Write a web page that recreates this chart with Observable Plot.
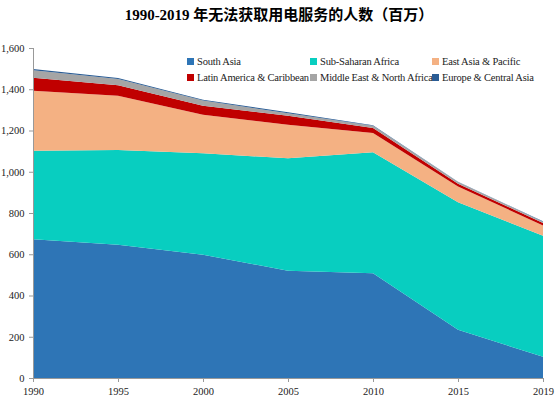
<!DOCTYPE html>
<html>
<head>
<meta charset="utf-8">
<script src="https://cdn.jsdelivr.net/npm/d3@7"></script>
<script src="https://cdn.jsdelivr.net/npm/@observablehq/plot@0.6"></script>
<style>
  body { margin: 0; background: #fff; }
  #wrap { position: relative; width: 558px; height: 402px; }
  #title {
    height: 30px; line-height: 30px; text-align: center;
    font-family: "Liberation Serif", "Times New Roman", Times, "Noto Sans CJK SC", serif;
    font-weight: bold; font-size: 15px; color: #000;
  }
  #legend {
    position: absolute; left: 187px; top: 56px; width: 370px;
    display: grid; grid-template-columns: 123px 122px 125px; row-gap: 5px;
    font-family: "Liberation Serif", "Times New Roman", Times, serif; font-size: 10.5px; color: #222;
  }
  #legend span.item { display: flex; align-items: center; white-space: nowrap; overflow: visible; letter-spacing: -0.2px; }
  #legend span.sw { display: inline-block; flex: 0 0 7px; width: 7px; height: 7px; margin-right: 3px; }
</style>
</head>
<body>
<div id="wrap">
  <div id="title">1990-2019 年无法获取用电服务的人数（百万）</div>
  <div id="chart"></div>
  <div id="legend"></div>
</div>
<script>
// Years shown on the axis (equally spaced categories)
const years = ["1990", "1995", "2000", "2005", "2010", "2015", "2019"];

// People without electricity, millions, by region
const southAsia    = [673, 646, 598, 520, 508, 234, 103];
const subSaharan   = [429, 460, 492, 545, 587, 618, 587];
const eastAsia     = [291, 262, 186, 163,  93,  76,  50];
const latinAmerica = [ 63,  51,  44,  43,  24,  14,  12];
const middleEast   = [ 36,  31,  25,  13,  11,   8,   6];
const europeAsia   = [  6,   5,   4,   4,   3,   2,   2];

const regions = [
  "South Asia", "Sub-Saharan Africa", "East Asia & Pacific",
  "Latin America & Caribbean", "Middle East & North Africa", "Europe & Central Asia"
];
const colors = ["#2E75B6", "#08CEC0", "#F4B183", "#C00000", "#A5A5A5", "#2A5C94"];
const seriesValues = [southAsia, subSaharan, eastAsia, latinAmerica, middleEast, europeAsia];

const rows = regions.flatMap((r, k) =>
  years.map((year, i) => ({ year, region: r, value: seriesValues[k][i] }))
);

const plot = Plot.plot({
  width: 558,
  height: 372,
  marginTop: 18,
  marginBottom: 24,
  marginLeft: 33,
  marginRight: 15,
  style: { fontFamily: "'Liberation Serif', 'Times New Roman', Times, serif", fontSize: "10.5px", color: "#222", background: "#fff" },
  x: { type: "point", domain: years, padding: 0, label: null, tickSize: 4 },
  y: { domain: [0, 1600], ticks: d3.range(0, 1601, 200), tickFormat: d3.format(","), label: null, tickSize: 4 },
  color: { domain: regions, range: colors },
  marks: [
    Plot.areaY(rows, {
      x: "year", y: "value", fill: "region",
      order: regions, curve: "linear"
    }),
    Plot.ruleX([years[0]], { stroke: "#999" }),
    Plot.ruleY([0], { stroke: "#999" })
  ]
});
plot.querySelectorAll('[aria-label="x-axis tick"], [aria-label="y-axis tick"]').forEach(g => g.setAttribute("stroke", "#999"));
document.getElementById("chart").appendChild(plot);

// Legend
const legend = document.getElementById("legend");
regions.forEach((r, k) => {
  const item = document.createElement("span");
  item.className = "item";
  item.innerHTML = `<span class="sw" style="background:${colors[k]}"></span>${r}`;
  legend.appendChild(item);
});
</script>
</body>
</html>
